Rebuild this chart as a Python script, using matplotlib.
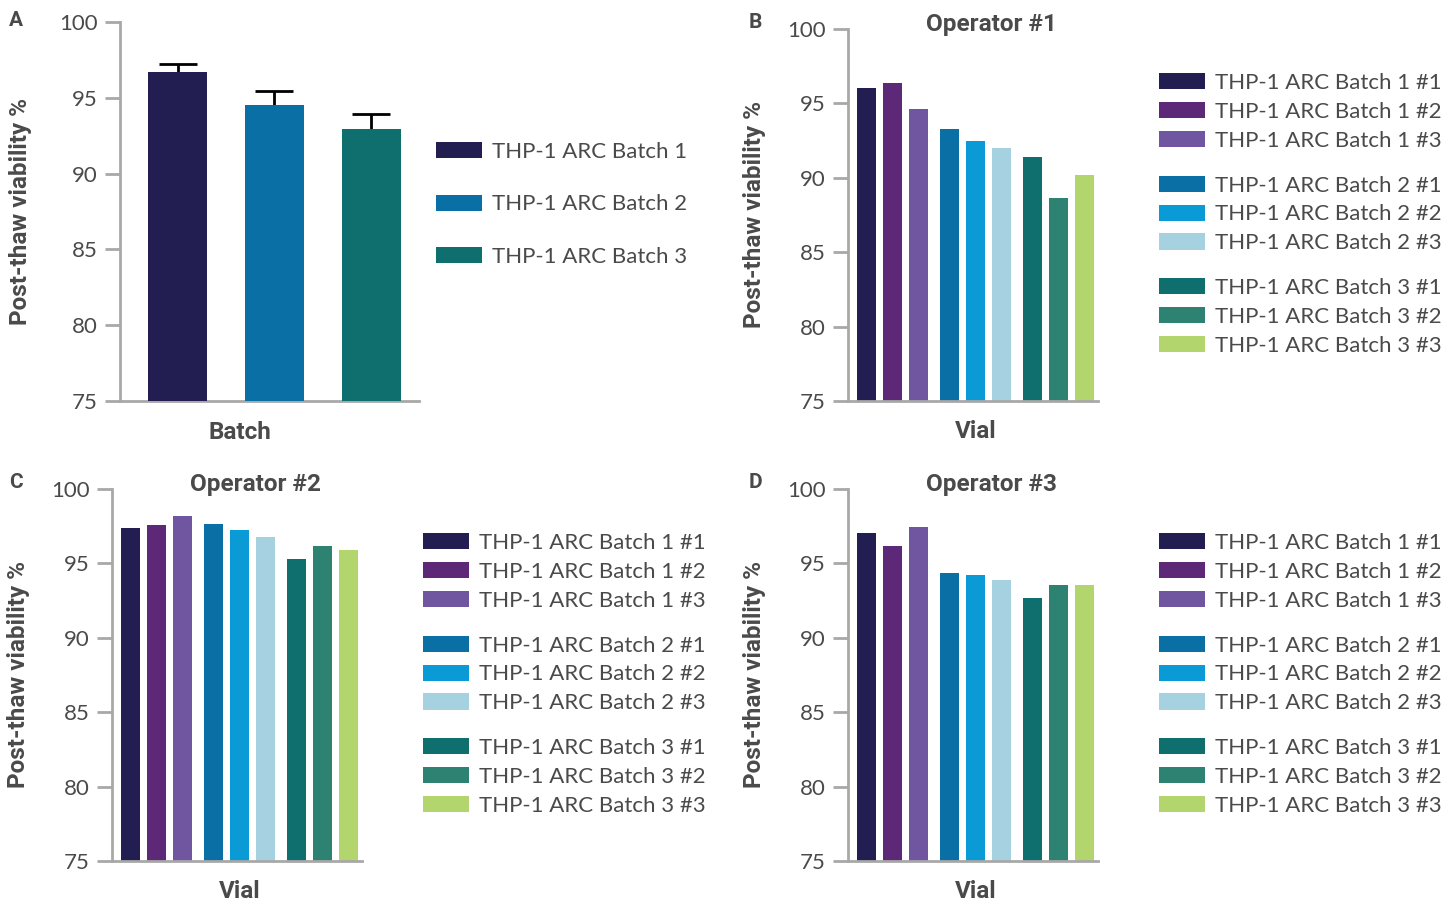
import matplotlib
matplotlib.use("Agg")
import matplotlib.pyplot as plt
from matplotlib.patches import Patch
import numpy as np

plt.rcParams['font.family'] = ['Lato', 'DejaVu Sans']
BOLD = ['Roboto', 'DejaVu Sans']

# data
batch_names = ['THP-1 ARC Batch 1', 'THP-1 ARC Batch 2', 'THP-1 ARC Batch 3']
batch_means = [96.7, 94.5, 92.95]
batch_err = [0.5, 0.95, 1.0]
batch_colors = ['#221e52', '#0a6fa5', '#0f6e6e']

vial_names = ['THP-1 ARC Batch 1 #1', 'THP-1 ARC Batch 1 #2', 'THP-1 ARC Batch 1 #3',
              'THP-1 ARC Batch 2 #1', 'THP-1 ARC Batch 2 #2', 'THP-1 ARC Batch 2 #3',
              'THP-1 ARC Batch 3 #1', 'THP-1 ARC Batch 3 #2', 'THP-1 ARC Batch 3 #3']
vial_colors = ['#221e52', '#5e2878', '#7055a0',
               '#0a6fa5', '#0a9bd6', '#a5d1e1',
               '#0f6e6e', '#2e8272', '#b2d56e']
operator1 = [96.05, 96.4, 94.65, 93.3, 92.5, 92.0, 91.4, 88.65, 90.2]
operator2 = [97.4, 97.6, 98.2, 97.65, 97.25, 96.75, 95.3, 96.2, 95.9]
operator3 = [97.05, 96.2, 97.45, 94.35, 94.25, 93.9, 92.7, 93.55, 93.55]

txt = '#4a4a4a'
spine_c = '#a8a8a8'
W, H = 1447, 902
BSIZE = 17.5

fig = plt.figure(figsize=(W / 100, H / 100), dpi=100)


def make_ax(l, r, t, b, ylab_x):
    ax = fig.add_axes([l / W, 1 - b / H, (r - l) / W, (b - t) / H])
    ax.set_ylim(75, 100)
    ax.set_yticks([75, 80, 85, 90, 95, 100])
    ax.spines['top'].set_visible(False)
    ax.spines['right'].set_visible(False)
    for s in ['left', 'bottom']:
        ax.spines[s].set_color(spine_c)
        ax.spines[s].set_linewidth(2)
    ax.tick_params(axis='y', length=11, width=2, color=spine_c, labelcolor=txt,
                   labelsize=16, pad=5)
    ax.tick_params(axis='x', bottom=False, labelbottom=False)
    ax.set_ylabel('Post-thaw viability %', fontsize=BSIZE, fontweight='bold', color=txt,
                  family=BOLD)
    ax.yaxis.set_label_coords(ylab_x, 0.5)
    return ax


def bold_text(ax, x, y, s):
    ax.text(x, y, s, transform=ax.transAxes, ha='center', va='center',
            fontsize=BSIZE, fontweight='bold', color=txt, family=BOLD)


# panel A
axA = make_ax(120, 419, 22, 401, -0.294)
xa = np.arange(len(batch_means))
axA.bar(xa, batch_means, width=0.61, color=batch_colors, zorder=3)
axA.errorbar(xa, batch_means, yerr=batch_err, fmt='none',
             ecolor='black', elinewidth=2, capsize=14, capthick=2, zorder=2)
axA.set_xlim(-0.593, 2.49)
bold_text(axA, 0.40, -0.082, 'Batch')
handlesA = [Patch(facecolor=c, edgecolor='none') for c in batch_colors]
fig.legend(handlesA, batch_names, loc='upper left', bbox_to_anchor=(436 / W, 1 - 142 / H),
           frameon=False, fontsize=16, labelcolor=txt, borderpad=0, borderaxespad=0,
           handlelength=2.05, handleheight=0.75, handletextpad=0.45, labelspacing=1.46)

# vial panels
xv = np.array([0, 1, 2, 3.2, 4.2, 5.2, 6.4, 7.4, 8.4])
panels = [
    (operator1, 'Operator #1', (848, 1098, 29, 401), 1159, 0),
    (operator2, 'Operator #2', (112, 362, 489, 861), 423, 460),
    (operator3, 'Operator #3', (848, 1098, 489, 861), 1159, 460),
]
for vals, title, box, legx, dy in panels:
    ax = make_ax(*box, ylab_x=-0.33)
    ax.bar(xv, vals, width=0.73, color=vial_colors)
    ax.set_xlim(-0.7, 8.9)
    bold_text(ax, 0.575, 1.013, title)
    bold_text(ax, 0.51, -0.083, 'Vial')
    for g in range(3):
        handles = [Patch(facecolor=c, edgecolor='none') for c in vial_colors[g * 3:g * 3 + 3]]
        fig.legend(handles, vial_names[g * 3:g * 3 + 3], loc='upper left',
                   bbox_to_anchor=(legx / W, 1 - (73 + dy + g * 102.5) / H),
                   frameon=False, fontsize=16, labelcolor=txt, borderpad=0,
                   borderaxespad=0, handlelength=2.05, handleheight=0.75,
                   handletextpad=0.45, labelspacing=0.40)

# panel letters
for letter, x, y in [('A', 16, 20), ('B', 755, 22), ('C', 16, 482), ('D', 755, 482)]:
    fig.text(x / W, 1 - y / H, letter, ha='center', va='center', fontsize=15,
             fontweight='bold', color=txt, family=BOLD)

fig.savefig('out.png', dpi=100)
